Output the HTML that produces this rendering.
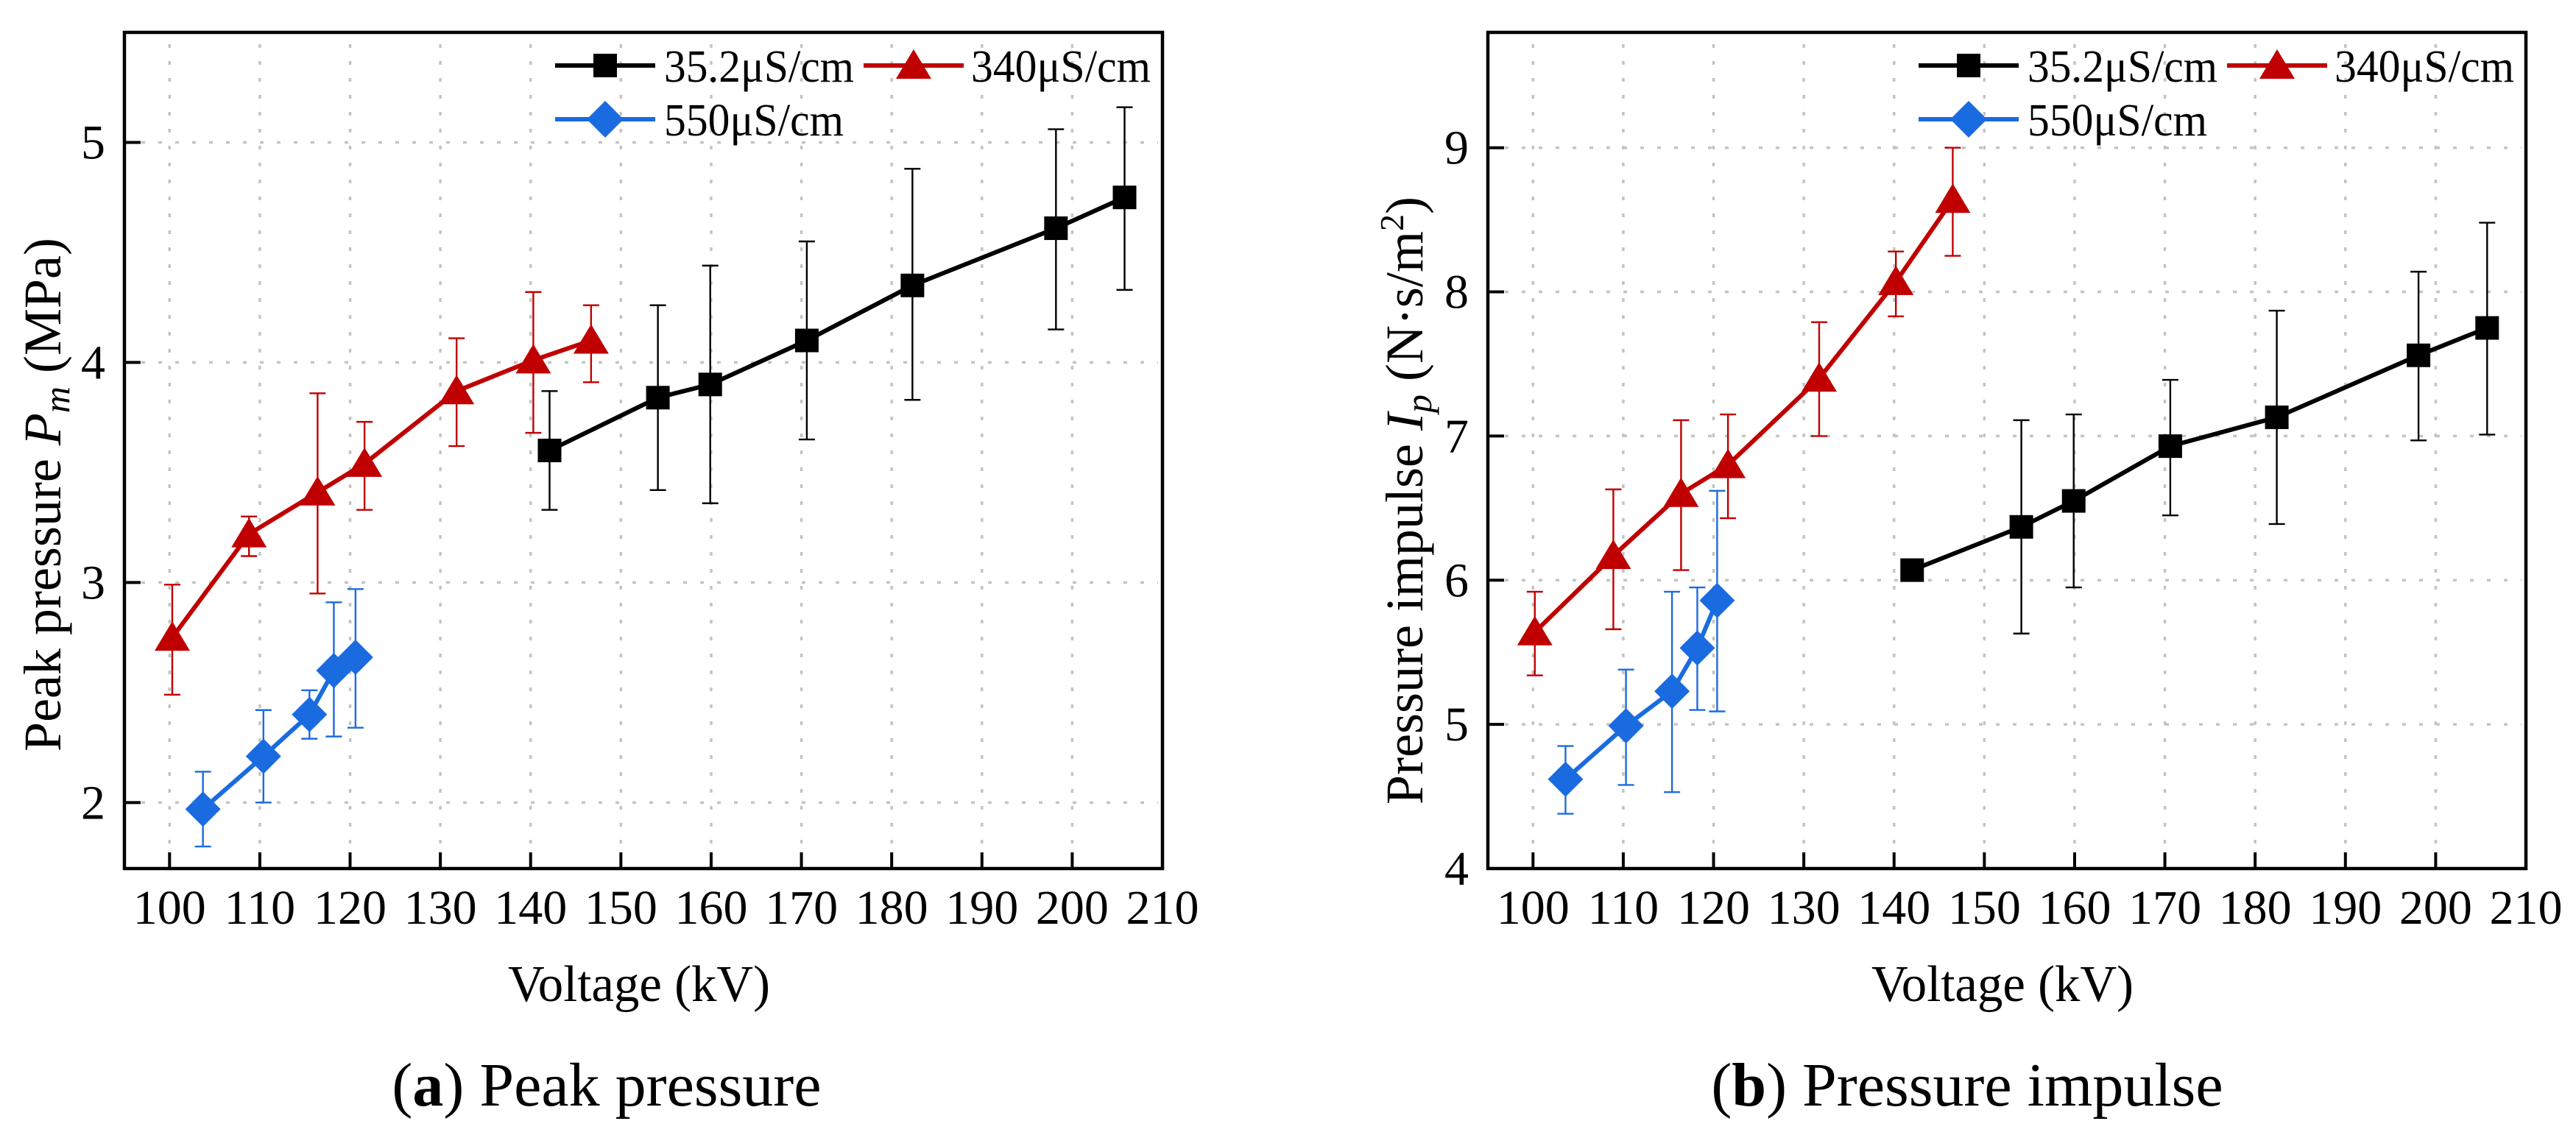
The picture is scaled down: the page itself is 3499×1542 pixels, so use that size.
<!DOCTYPE html>
<html><head><meta charset="utf-8"><style>
html,body{margin:0;padding:0;background:#fff;}
svg{display:block;}
text{font-family:"Liberation Serif","Times New Roman",serif;fill:#000;}
</style></head><body>
<svg id="fig" width="3499" height="1542" viewBox="0 0 3499 1542" xmlns="http://www.w3.org/2000/svg">
<rect x="0" y="0" width="3499" height="1542" fill="#fff"/>
</svg>
<script>
// ---- shared x data ----
const xTicks = [100,110,120,130,140,150,160,170,180,190,200,210];
// Panel (a) peak pressure
const aYTicks = [2,3,4,5];
const aBlackX = [142.1,154.1,159.9,170.6,182.3,198.2,205.8];
const aBlackY = [3.60,3.84,3.90,4.10,4.35,4.61,4.75];
const aBlackHi = [3.87,4.26,4.44,4.55,4.88,5.06,5.16];
const aBlackLo = [3.33,3.42,3.36,3.65,3.83,4.15,4.33];
const aRedX = [100.3,108.8,116.4,121.6,131.8,140.3,146.7];
const aRedY = [2.75,3.22,3.41,3.54,3.87,4.01,4.10];
const aRedHi = [2.99,3.30,3.86,3.73,4.11,4.32,4.26];
const aRedLo = [2.49,3.12,2.95,3.33,3.62,3.68,3.91];
const aBlueX = [103.7,110.4,115.5,118.2,120.6];
const aBlueY = [1.97,2.21,2.40,2.60,2.66];
const aBlueHi = [2.14,2.42,2.51,2.91,2.97];
const aBlueLo = [1.80,2.00,2.29,2.30,2.34];
// Panel (b) pressure impulse
const bYTicks = [4,5,6,7,8,9];
const bBlackX = [142.0,154.1,159.9,170.6,182.4,198.1,205.7];
const bBlackY = [6.07,6.37,6.55,6.93,7.13,7.56,7.75];
const bBlackHi = [6.07,7.11,7.15,7.39,7.87,8.14,8.48];
const bBlackLo = [6.07,5.63,5.95,6.45,6.39,6.97,7.01];
const bRedX = [100.2,108.9,116.4,121.6,131.7,140.2,146.5];
const bRedY = [5.64,6.17,6.60,6.80,7.40,8.07,8.64];
const bRedHi = [5.92,6.63,7.11,7.15,7.79,8.28,9.00];
const bRedLo = [5.34,5.66,6.07,6.43,7.00,7.83,8.25];
const bBlueX = [103.6,110.3,115.4,118.2,120.4];
const bBlueY = [4.62,4.99,5.23,5.53,5.86];
const bBlueHi = [4.85,5.38,5.92,5.95,6.62];
const bBlueLo = [4.38,4.58,4.53,5.10,5.09];
const legendLabels = ["35.2μS/cm","340μS/cm","550μS/cm"];

const NS="http://www.w3.org/2000/svg";
const svg=document.getElementById('fig');
function mk(tag,attrs,parent){const e=document.createElementNS(NS,tag);for(const k in attrs)e.setAttribute(k,attrs[k]);(parent||svg).appendChild(e);return e;}
const BLACK="#000", RED="#c00000", BLUE="#1b6be0";

function marker(g,type,cx,cy,color,s){
  let e;
  if(type==='sq') e=mk('rect',{x:cx-s/2,y:cy-s/2,width:s,height:s,fill:color},g);
  else if(type==='tri') e=mk('polygon',{points:`${cx},${cy-s*0.55} ${cx-s*0.6},${cy+s*0.45} ${cx+s*0.6},${cy+s*0.45}`,fill:color},g);
  else e=mk('polygon',{points:`${cx},${cy-s/2} ${cx+s/2},${cy} ${cx},${cy+s/2} ${cx-s/2},${cy}`,fill:color},g);
  return e;
}

function panel(opt){
  const L=opt.left, R=opt.left+1410, T=44, B=1180;
  const xs=v=>L+ (v-95.0)*(R-L)/(210-95.0);
  const ys=v=>B-(v-opt.ymin)*(B-T)/(opt.ymax-opt.ymin);
  const g=mk('g',{});
  
  
  // grid
  const grid=mk('g',{stroke:"#c4c4c4","stroke-width":3.5,"stroke-dasharray":"5 18"},g);
  
  
  xTicks.forEach(v=>{ if(v<210) mk('line',{x1:xs(v),x2:xs(v),y1:T+16,y2:B},grid);});
  opt.yTicks.forEach(v=>{ mk('line',{x1:L,x2:R-6,y1:ys(v),y2:ys(v)},grid);});
  // ticks
  xTicks.forEach(v=>{
    const t=mk('line',{x1:xs(v),x2:xs(v),y1:B,y2:B-22,stroke:"#000","stroke-width":4},g);
    
    
    const lb=mk('text',{x:xs(v),y:1255,"text-anchor":"middle","font-size":66},g);
    lb.textContent=v;
    
    
  });
  opt.yTicks.forEach(v=>{
    const t=mk('line',{x1:L,x2:L+22,y1:ys(v),y2:ys(v),stroke:"#000","stroke-width":4},g);
    
    
    const lb=mk('text',{x:L-26,y:ys(v)+22,"text-anchor":"end","font-size":66},g);
    lb.textContent=v;
    
    
  });
  // frame
  const fr=mk('rect',{x:L,y:T,width:R-L,height:B-T,fill:"none",stroke:"#000","stroke-width":4.5},g);
  
  
  // series
  opt.series.forEach(s=>{
    const sg=mk('g',{},g);
    
    
    s.x.forEach((xv,i)=>{
      const cx=xs(xv);
      if(Math.abs(s.hi[i]-s.lo[i])>0.01){
        const eb=mk('path',{d:`M${cx},${ys(s.hi[i])}V${ys(s.lo[i])}M${cx-11},${ys(s.hi[i])}H${cx+11}M${cx-11},${ys(s.lo[i])}H${cx+11}`,stroke:s.color,"stroke-width":2.4,fill:"none"},sg);
        
        
      }
    });
    const pts=s.x.map((xv,i)=>xs(xv)+','+ys(s.y[i])).join(' ');
    const pl=mk('polyline',{points:pts,fill:"none",stroke:s.color,"stroke-width":6},sg);
    
    
    s.x.forEach((xv,i)=>{
      const m=marker(sg,s.type,xs(xv),ys(s.y[i]),s.color,s.size);
      
      
    });
  });
  // legend
  const lg=mk('g',{},g);
  
  
  const off=opt.left-169;
  const ent=[{x0:754,y:89,tx:902,tw:258,c:BLACK,t:'sq',s:32,lab:legendLabels[0]},
             {x0:1173,y:89,tx:1319,tw:244,c:RED,t:'tri',s:40,lab:legendLabels[1]},
             {x0:754,y:162,tx:902,tw:244,c:BLUE,t:'dia',s:50,lab:legendLabels[2]}];
  ent.forEach(e=>{
    const eg=mk('g',{},lg);
    
    
    mk('line',{x1:e.x0+off,x2:e.x0+off+136,y1:e.y,y2:e.y,stroke:e.c,"stroke-width":6},eg);
    marker(eg,e.t,e.x0+off+68,e.y,e.c,e.s);
    const tx=mk('text',{x:e.tx+off,y:e.y+22,"font-size":62,textLength:e.tw,lengthAdjust:"spacingAndGlyphs"},eg);
    tx.textContent=e.lab;
  });
  // axis titles
  const xt=mk('text',{x:(L+R)/2-6,y:1360,"text-anchor":"middle","font-size":70,textLength:356,lengthAdjust:"spacingAndGlyphs"},g);
  xt.textContent="Voltage (kV)";
  
  
  const yt=mk('text',{x:0,y:0,"text-anchor":"middle","font-size":72,transform:`translate(${opt.ylabX},${opt.ylabY}) rotate(-90)`},g);
  yt.innerHTML=opt.ylabHTML;
  
  
  // caption
  const cp=mk('text',{x:opt.capX,y:1502,"text-anchor":"middle","font-size":84},g);
  cp.innerHTML=opt.capHTML;
  
  
}

panel({name:'panel-a-peak-pressure',left:169,ymin:1.7,ymax:5.5,yTicks:aYTicks,
  ylabX:82,ylabY:672,capX:824,
  ylabHTML:'Peak pressure <tspan font-style="italic">P</tspan><tspan font-style="italic" font-size="50" dy="12">m</tspan><tspan dy="-12"> (MPa)</tspan>',
  capHTML:'(<tspan font-weight="bold">a</tspan>) Peak pressure',
  series:[
   {key:'35.2',x:aBlackX,y:aBlackY,hi:aBlackHi,lo:aBlackLo,color:BLACK,type:'sq',size:32},
   {key:'340',x:aRedX,y:aRedY,hi:aRedHi,lo:aRedLo,color:RED,type:'tri',size:40},
   {key:'550',x:aBlueX,y:aBlueY,hi:aBlueHi,lo:aBlueLo,color:BLUE,type:'dia',size:48}]});
panel({name:'panel-b-pressure-impulse',left:2021,ymin:4,ymax:9.8,yTicks:bYTicks,
  ylabX:1932,ylabY:680,capX:2672,
  ylabHTML:'Pressure impulse <tspan font-style="italic">I</tspan><tspan font-style="italic" font-size="50" dy="12">p</tspan><tspan dy="-12"> (N·s/m</tspan><tspan font-size="46" dy="-26">2</tspan><tspan dy="26">)</tspan>',
  capHTML:'(<tspan font-weight="bold">b</tspan>) Pressure impulse',
  series:[
   {key:'35.2',x:bBlackX,y:bBlackY,hi:bBlackHi,lo:bBlackLo,color:BLACK,type:'sq',size:32},
   {key:'340',x:bRedX,y:bRedY,hi:bRedHi,lo:bRedLo,color:RED,type:'tri',size:40},
   {key:'550',x:bBlueX,y:bBlueY,hi:bBlueHi,lo:bBlueLo,color:BLUE,type:'dia',size:48}]});
</script>
</body></html>
